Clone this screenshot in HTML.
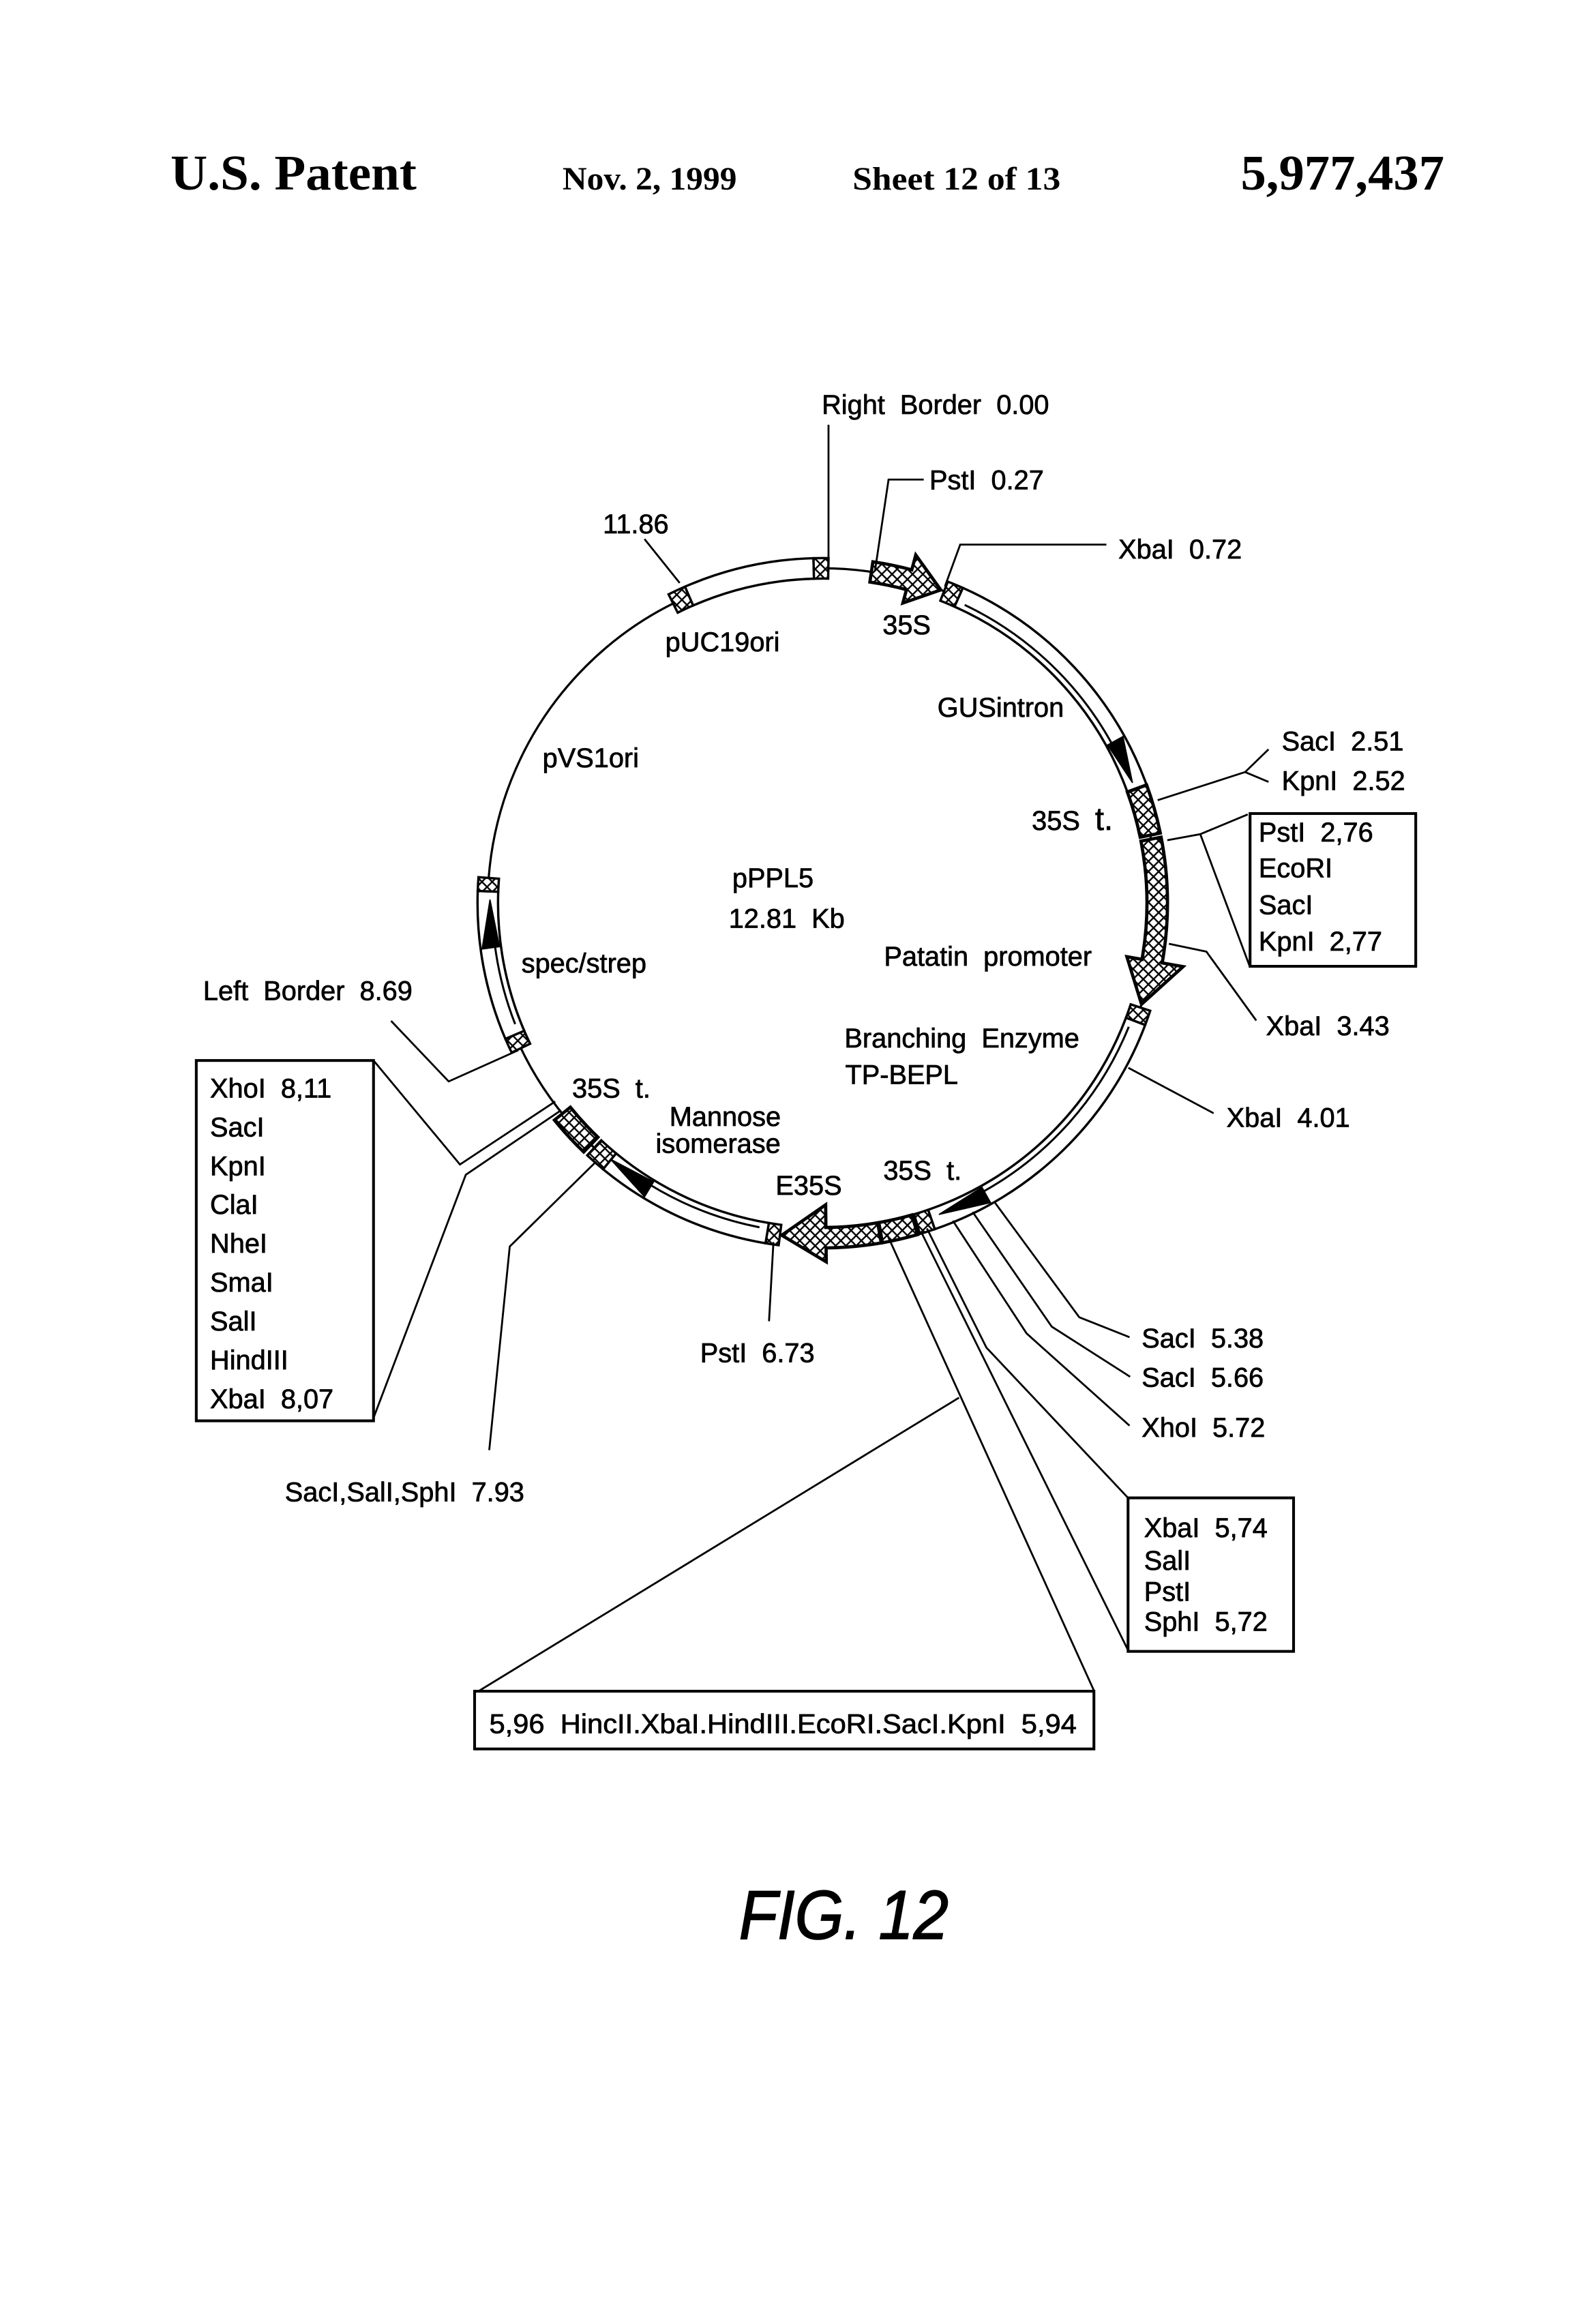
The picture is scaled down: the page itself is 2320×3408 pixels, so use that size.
<!DOCTYPE html>
<html><head><meta charset="utf-8"><style>
html,body{margin:0;padding:0;background:#fff;}
svg{display:block;}
text{font-family:"Liberation Sans",sans-serif;fill:#000;white-space:pre;}
.l{font-size:18.5px;stroke:#000;stroke-width:0.35px;}
.h{font-family:"Liberation Serif",serif;font-weight:bold;}
</style></head><body>
<svg id="s" xmlns="http://www.w3.org/2000/svg" width="2320" height="3408" viewBox="0 0 1080 1586.6" preserveAspectRatio="none">
<defs>
<pattern id="hx" patternUnits="userSpaceOnUse" width="7" height="7">
<rect width="7" height="7" fill="#fff"/>
<path d="M0,0L7,7M7,0L0,7M-1,6L1,8M6,-1L8,1M-1,1L1,-1M6,8L8,6" stroke="#000" stroke-width="1.1"/>
</pattern>
</defs>
<rect width="1080" height="1586.6" fill="#fff"/>
<text class="h" x="116.4" y="129.5" font-size="34" textLength="168" lengthAdjust="spacingAndGlyphs">U.S. Patent</text>
<text class="h" x="384" y="129.5" font-size="22" textLength="119" lengthAdjust="spacingAndGlyphs">Nov. 2, 1999</text>
<text class="h" x="582" y="129.5" font-size="22" textLength="142" lengthAdjust="spacingAndGlyphs">Sheet 12 of 13</text>
<text class="h" x="847" y="129.5" font-size="34" textLength="139" lengthAdjust="spacingAndGlyphs">5,977,437</text>
<g id="g" fill="none" stroke="#000" stroke-width="1.4"></g>
<g>
<text class="l" x="561" y="282.5">Right  Border  0.00</text>
<text class="l" x="634.5" y="334">PstI  0.27</text>
<text class="l" x="763.5" y="381.3">XbaI  0.72</text>
<text class="l" x="411.6" y="364">11.86</text>
<text class="l" x="454.2" y="444.6">pUC19ori</text>
<text class="l" x="602.5" y="432.9">35S</text>
<text class="l" x="640" y="489.3">GUSintron</text>
<text class="l" x="370.4" y="523.7">pVS1ori</text>
<text class="l" x="875" y="512.4">SacI  2.51</text>
<text class="l" x="875" y="539.3">KpnI  2.52</text>
<text class="l" x="704.4" y="566.6">35S  <tspan font-size="22">t.</tspan></text>
<text class="l" x="859.3" y="574.5">PstI  2,76</text>
<text class="l" x="859.3" y="599">EcoRI</text>
<text class="l" x="859.3" y="624">SacI</text>
<text class="l" x="859.3" y="649">KpnI  2,77</text>
<text class="l" x="499.9" y="605.7">pPPL5</text>
<text class="l" x="497.5" y="633.4">12.81  Kb</text>
<text class="l" x="603.5" y="659.3">Patatin  promoter</text>
<text class="l" x="356" y="663.8">spec/strep</text>
<text class="l" x="138.7" y="682.8">Left  Border  8.69</text>
<text class="l" x="864.3" y="706.7">XbaI  3.43</text>
<text class="l" x="576.5" y="715">Branching  Enzyme</text>
<text class="l" x="577" y="740">TP-BEPL</text>
<text class="l" x="837.3" y="769.4">XbaI  4.01</text>
<text class="l" x="390.6" y="749.4">35S  t.</text>
<text class="l" x="457" y="768.6">Mannose</text>
<text class="l" x="447.6" y="787">isomerase</text>
<text class="l" x="529.5" y="815.6">E35S</text>
<text class="l" x="603" y="805.4">35S  t.</text>
<text class="l" x="143.4" y="749.3">XhoI  8,11</text>
<text class="l" x="143.4" y="775.8">SacI</text>
<text class="l" x="143.4" y="802.3">KpnI</text>
<text class="l" x="143.4" y="828.8">ClaI</text>
<text class="l" x="143.4" y="855.3">NheI</text>
<text class="l" x="143.4" y="881.8">SmaI</text>
<text class="l" x="143.4" y="908.3">SalI</text>
<text class="l" x="143.4" y="934.8">HindIII</text>
<text class="l" x="143.4" y="961.3">XbaI  8,07</text>
<text class="l" x="779.4" y="920">SacI  5.38</text>
<text class="l" x="779.4" y="946.7">SacI  5.66</text>
<text class="l" x="779.4" y="981">XhoI  5.72</text>
<text class="l" x="478" y="930">PstI  6.73</text>
<text class="l" x="194.5" y="1025">SacI,SalI,SphI  7.93</text>
<text class="l" x="781" y="1049.4">XbaI  5,74</text>
<text class="l" x="781" y="1071.7">SalI</text>
<text class="l" x="781" y="1093">PstI</text>
<text class="l" x="781" y="1113.4">SphI  5,72</text>
<text class="l" x="334" y="1183.3" textLength="401" lengthAdjust="spacingAndGlyphs">5,96  HincII.XbaI.HindIII.EcoRI.SacI.KpnI  5,94</text>
</g>
<text x="504.5" y="1323.6" font-size="47" font-style="italic" stroke="#000" stroke-width="0.8" textLength="143" lengthAdjust="spacingAndGlyphs">FIG. 12</text>
</svg>
<script>
(function(){
var NS="http://www.w3.org/2000/svg",g=document.getElementById("g");
var cx=561.5,cy=616.5,R=228.5,ri=221.5,ro=235.5;
function P(r,a){a=a*Math.PI/180;return (cx+r*Math.sin(a)).toFixed(2)+","+(cy-r*Math.cos(a)).toFixed(2);}
function add(tag,at){var e=document.createElementNS(NS,tag);for(var k in at)e.setAttribute(k,at[k]);g.appendChild(e);return e;}
function arc(r,a1,a2,sw){return "A"+r+","+r+" 0 "+((a2-a1)>180?1:0)+","+sw+" "+P(r,a2);}
function ann(a1,a2,r1,r2){return "M"+P(r2,a1)+arc(r2,a1,a2,1)+"L"+P(r1,a2)+arc(r1,a2,a1,0)+"Z";}
function band(a1,a2,fill,sw){add("path",{d:ann(a1,a2,ri,ro),fill:fill,"stroke-width":sw||1.6});}
function harrow(a1,ah,a2,h1,h2){
 var d="M"+P(ro,a1)+arc(ro,a1,ah,1)+"L"+P(h2,ah)+"L"+P(R,a2)+"L"+P(h1,ah)+"L"+P(ri,ah)+arc(ri,ah,a1,0)+"Z";
 add("path",{d:d,fill:"url(#hx)","stroke-width":2.2});}
function inner(a1,a2){add("path",{d:"M"+P(225.5,a1)+arc(225.5,a1,a2,1),"stroke-width":1.4});}
function blk(ab,at){add("path",{d:"M"+P(222.5,ab)+"L"+P(234.5,ab)+"L"+P(227,at)+"Z",fill:"#000","stroke-width":0.8});}
function L(pts){add("polyline",{points:pts,"stroke-width":1.3});}
add("circle",{cx:cx,cy:cy,r:R,"stroke-width":1.5});
band(-23.5,-1.5,"#fff");band(-26.5,-23.5,"url(#hx)");band(-1.5,1,"url(#hx)");
harrow(8.4,15,20.7,212,246);
band(24,69.9,"#fff");band(21.3,24,"url(#hx)");inner(25.5,62);blk(61,68.8);
band(70,78.3,"url(#hx)",2.2);
harrow(79,100,107.6,211,250);
band(110.7,161,"#fff");band(108.2,110.7,"url(#hx)");inner(112,151);blk(150.7,159.5);band(161,163.6,"url(#hx)");
band(164,170,"url(#hx)",2.2);
harrow(170.2,179.4,187,206,245);
band(189.5,219.5,"#fff");band(187.3,189.5,"url(#hx)");inner(191,211.5);blk(211.2,219.6);band(219.5,223,"url(#hx)");
band(223.8,231,"url(#hx)",2.2);
band(246.8,272,"#fff");band(244.3,246.8,"url(#hx)");band(272,274.3,"url(#hx)");inner(248.5,262.5);blk(262.3,270.6);
L("565.6,290 565.6,385");
L("630.6,327.4 606.6,327.4 597.3,390");
L("755.3,371.8 655.5,371.8 645.1,400.3");
L("440,368 464,398");
L("790.3,546.3 850,527.1 866,511.6");L("850,527.1 866,533.8");
L("796.9,573.6 819.4,569.5 851.8,556");L("819.4,569.5 853,659.3");
add("rect",{x:853.4,y:555.4,width:113.1,height:104.3,"stroke-width":1.9});
L("798,644.3 823.6,649.7 857.6,696.7");
L("770.3,729 828.5,760");
L("678.6,820.2 736.8,899.3 771.1,912.9");
L("664,827.4 718,905.7 771.5,939.9");
L("650.5,833.4 700.8,910.3 771.1,973.3");
L("632.8,838.7 673.4,920 770.1,1022.6");
L("628.7,840.7 770.5,1127.4");
L("605.4,842.3 747,1154.6");
L("654.7,954.2 326.6,1154.6");
add("rect",{x:770.1,y:1022.6,width:113,height:104.8,"stroke-width":1.9});
add("rect",{x:324,y:1154.6,width:422.8,height:39.4,"stroke-width":1.9});
L("528,848 525,902");
L("267,697 306.3,738.3 353.8,717");
add("rect",{x:134,y:724,width:121,height:246,"stroke-width":1.9});
L("255,724 314,795 379,752");
L("255,968 318,802 383,758");
L("334,990 348,851 407,793");
})();
</script>
</body></html>
